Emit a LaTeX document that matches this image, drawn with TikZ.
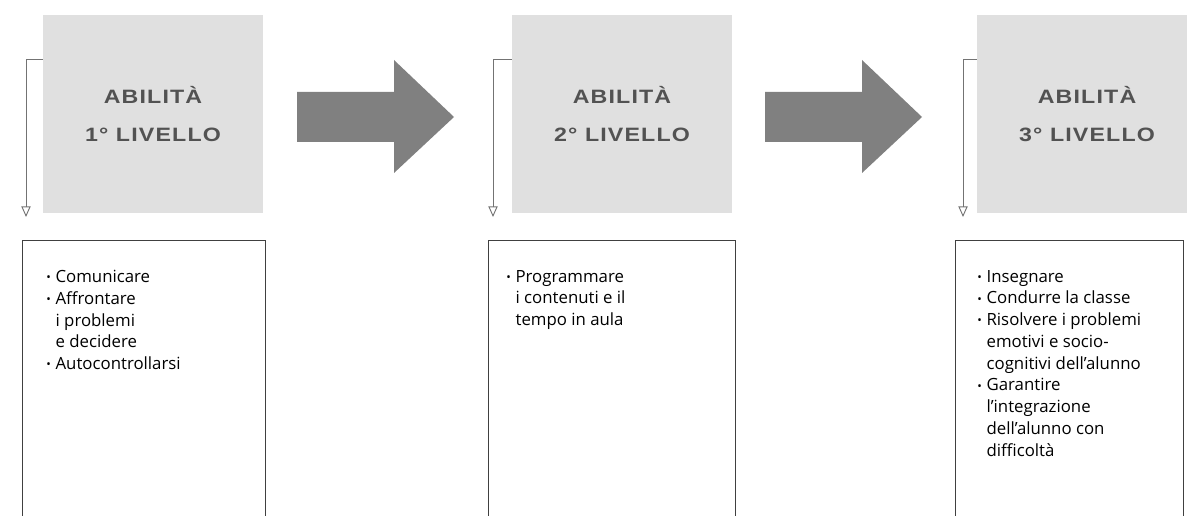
\documentclass[tikz,border=0pt]{standalone}
\usepackage{fontspec}
\setmainfont{Open Sans}
\newfontfamily\headfont[FakeStretch=1.2, LetterSpace=6]{Liberation Sans Bold}
\usetikzlibrary{arrows.meta}

\newcommand{\blt}{\makebox[7pt][l]{\raisebox{0.1ex}{\small\textbullet}}}
\newcommand{\ind}{\hspace*{7pt}}

\tikzset{
  headbox/.style={fill=black!12, minimum width=220*0.75pt, minimum height=198*0.75pt,
    inner sep=0pt, align=center, text=black!68,
    font=\headfont\fontsize{14.5}{29}\selectfont},
  listbox/.style={draw=black!75, line width=0.6pt, minimum height=300*0.75pt,
    anchor=north west, inner sep=0pt},
  listtext/.style={anchor=north west, align=left, inner sep=0pt,
    font=\fontsize{12.6}{16.3}\selectfont},
  downarrow/.style={draw=black!55, line width=0.7pt,
    -{Triangle[open, width=7pt, length=8pt]}},
  bigarrow/.style={fill=black!50}
}

\begin{document}
\begin{tikzpicture}[x=0.75pt, y=-0.75pt]
  \useasboundingbox (0,0) rectangle (1187,516);

  % shaded headings
  \node[headbox] (h1) at (153,114) {ABILITÀ\\1° LIVELLO};
  \node[headbox] (h2) at (622,114) {ABILITÀ\\2° LIVELLO};
  \node[headbox] (h3) at (1087,114) {ABILITÀ\\3° LIVELLO};

  % big arrows between the levels
  \fill[bigarrow] (297,92) -- (394,92) -- (394,60) -- (454,117) -- (394,173) -- (394,142) -- (297,142) -- cycle;
  \fill[bigarrow] (765,92) -- (862,92) -- (862,60) -- (922,117) -- (862,173) -- (862,142) -- (765,142) -- cycle;

  % open boxes with the lists
  \node[listbox, minimum width=243*0.75pt] (l1) at (22,240) {};
  \node[listbox, minimum width=247*0.75pt] (l2) at (488,240) {};
  \node[listbox, minimum width=228*0.75pt] (l3) at (955,240) {};

  % thin arrows down to the boxes
  \coordinate (e1) at (26,217);
  \coordinate (e2) at (493,217);
  \coordinate (e3) at (963,217);
  \draw[downarrow] ([yshift=-45*0.75pt]h1.north west) -| (e1);
  \draw[downarrow] ([yshift=-45*0.75pt]h2.north west) -| (e2);
  \draw[downarrow] ([yshift=-45*0.75pt]h3.north west) -| (e3);

  % lists
  \node[listtext] (t1) at (46,270) {\blt Comunicare\\\blt Affrontare\\\ind i problemi\\\ind e decidere\\\blt Autocontrollarsi};
  \node[listtext] (t2) at (506,270) {\blt Programmare\\\ind i contenuti e il\\\ind tempo in aula};
  \node[listtext] (t3) at (977,270) {\blt Insegnare\\\blt Condurre la classe\\\blt Risolvere i problemi\\\ind emotivi e socio-\\\ind cognitivi dell’alunno\\\blt Garantire\\\ind l’integrazione\\\ind dell’alunno con\\\ind difficoltà};
\end{tikzpicture}
\end{document}
